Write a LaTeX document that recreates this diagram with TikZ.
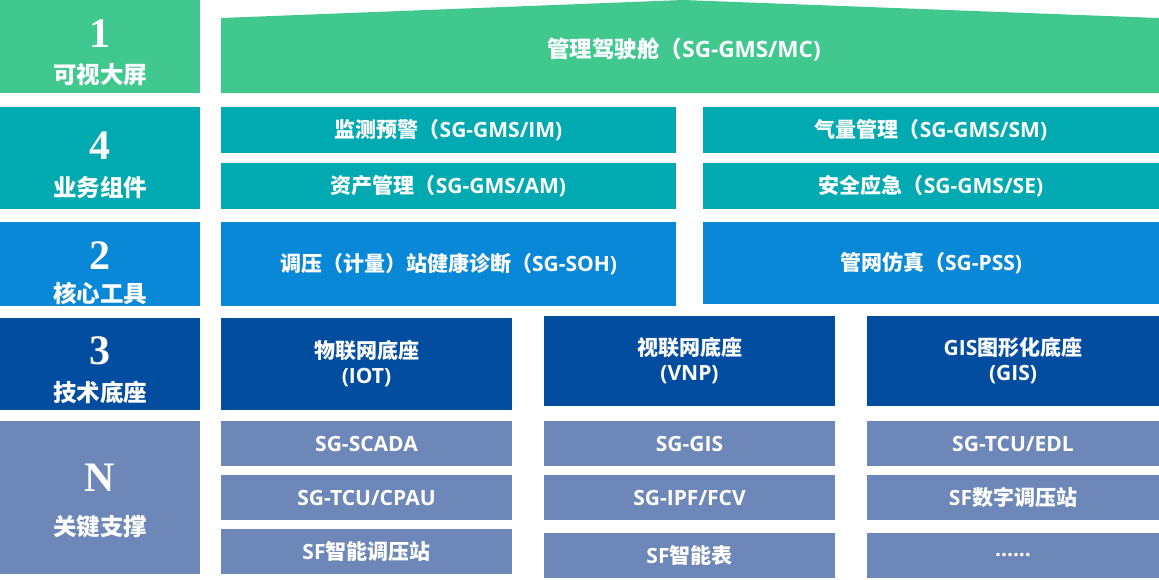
\documentclass[tikz,border=0pt]{standalone}
\usepackage{fontspec}
\setmainfont{Noto Sans CJK SC}
\newfontfamily\latfont{Open Sans}
\newfontfamily\numfont{Liberation Serif}
\newcommand\lat[1]{{\latfont #1}}

\definecolor{layerA}{RGB}{64,200,143}
\definecolor{layerB}{RGB}{0,170,176}
\definecolor{layerC}{RGB}{8,136,214}
\definecolor{layerD}{RGB}{2,77,160}
\definecolor{layerE}{RGB}{108,135,184}

\tikzset{
  cell/.style={fill=#1, text=white, inner sep=0pt, outer sep=0pt, anchor=north west,
    align=center, font=\bfseries\fontsize{21}{25}\selectfont},
  sz/.style 2 args={minimum width=#1pt, minimum height=#2pt},
  tag/.style={text=white, inner sep=0pt, font=\bfseries\fontsize{23.5}{26}\selectfont},
  num/.style={text=white, inner sep=0pt, font=\numfont\bfseries\fontsize{42}{42}\selectfont},
}

\begin{document}
\begin{tikzpicture}[x=1pt, y=-1pt]
  \useasboundingbox (0,0) rectangle (1159,579);

  % left column
  \node[cell=layerA, sz={200}{93}] (lab1) at (0,0) {};
  \node[cell=layerB, sz={200}{102}] (lab4) at (0,107) {};
  \node[cell=layerC, sz={200}{84}] (lab2) at (0,222) {};
  \node[cell=layerD, sz={200}{92}] (lab3) at (0,318) {};
  \node[cell=layerE, sz={200}{153}] (labN) at (0,421) {};
  \node[num] (n1) at (100,34) {1};
  \node[tag] (t1) at (100,75) {可视大屏};
  \node[num] (n4) at (100,146) {4};
  \node[tag] (t4) at (100,187) {业务组件};
  \node[num] (n2) at (100,256) {2};
  \node[tag] (t2) at (100,293) {核心工具};
  \node[num] (n3) at (100,351) {3};
  \node[tag] (t3) at (100,392) {技术底座};
  \node[num] (nN) at (100,478) {N};
  \node[tag] (tN) at (100,527) {关键支撑};

  % layer 1
  \fill[layerA] (221,18) -- (683,0) -- (1159,18) -- (1159,93) -- (221,93) -- cycle;
  \node[text=white, font=\bfseries\fontsize{22.5}{26}\selectfont] (mc) at (684,49)
    {管理驾驶舱（\lat{SG-GMS/MC)}};

  % layer 4
  \node[cell=layerB, sz={455}{46}] (im) at (221,107) {监测预警（\lat{SG-GMS/IM)}};
  \node[cell=layerB, sz={456}{46}] (sm) at (703,107) {气量管理（\lat{SG-GMS/SM)}};
  \node[cell=layerB, sz={455}{46}] (am) at (221,163) {资产管理（\lat{SG-GMS/AM)}};
  \node[cell=layerB, sz={456}{46}] (se) at (703,163) {安全应急（\lat{SG-GMS/SE)}};

  % layer 2
  \node[cell=layerC, sz={455}{84}] (soh) at (221,222) {调压（计量）站健康诊断（\lat{SG-SOH)}};
  \node[cell=layerC, sz={456}{82}] (pss) at (703,222) {管网仿真（\lat{SG-PSS)}};

  % layer 3
  \node[cell=layerD, sz={291}{92}] (iot) at (221,318) {物联网底座\\\lat{(IOT)}};
  \node[cell=layerD, sz={291}{90}] (vnp) at (544,316) {视联网底座\\\lat{(VNP)}};
  \node[cell=layerD, sz={292}{90}] (gis) at (867,316) {\lat{GIS}图形化底座\\\lat{(GIS)}};

  % layer N
  \node[cell=layerE, sz={291}{45}] (scada) at (221,421) {\lat{SG-SCADA}};
  \node[cell=layerE, sz={291}{45}] (cpau) at (221,475) {\lat{SG-TCU/CPAU}};
  \node[cell=layerE, sz={291}{45}] (sfst) at (221,529) {\lat{SF}智能调压站};
  \node[cell=layerE, sz={291}{45}] (sggis) at (544,421) {\lat{SG-GIS}};
  \node[cell=layerE, sz={291}{45}] (fcv) at (544,475) {\lat{SG-IPF/FCV}};
  \node[cell=layerE, sz={291}{45}] (meter) at (544,533) {\lat{SF}智能表};
  \node[cell=layerE, sz={292}{45}] (edl) at (867,421) {\lat{SG-TCU/EDL}};
  \node[cell=layerE, sz={292}{45}] (sfdt) at (867,475) {\lat{SF}数字调压站};
  \node[cell=layerE, sz={292}{45}] (more) at (867,533) {\lat{......}};
\end{tikzpicture}
\end{document}
